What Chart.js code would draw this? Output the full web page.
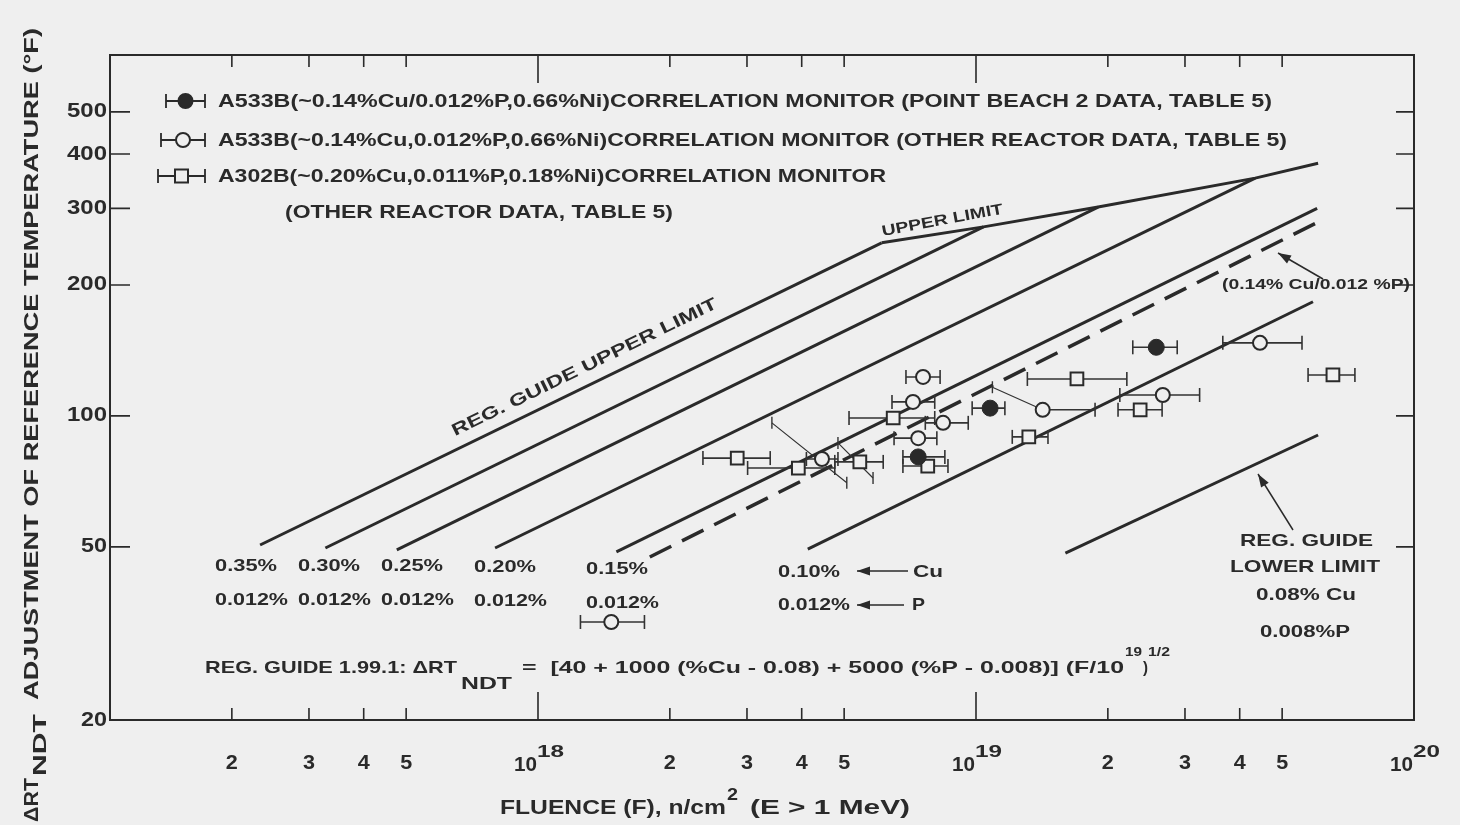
<!DOCTYPE html>
<html>
<head>
<meta charset="utf-8">
<script src="https://cdn.jsdelivr.net/npm/chart.js@4.4.1/dist/chart.umd.min.js"></script>
<style>
  html, body { margin: 0; padding: 0; background: #efefef; }
  #caja { width: 1460px; height: 825px; position: relative; }
  canvas { background: #efefef; }
</style>
</head>
<body>
<div id="caja"><canvas id="grafico"></canvas></div>
<script>
"use strict";
/* grafico de fluencia vs delta rt_ndt - escalas logaritmicas */

// ejes
var ejeF = [2e17, 3e17, 4e17, 5e17, 1e18, 2e18, 3e18, 4e18, 5e18, 1e19, 2e19, 3e19, 4e19, 5e19, 1e20];
var ejeFEtiq = ["2", "3", "4", "5", "10^18", "2", "3", "4", "5", "10^19", "2", "3", "4", "5", "10^20"];
var ejeT = [20, 50, 100, 200, 300, 400, 500];
var ejeTEtiq = ["20", "50", "100", "200", "300", "400", "500"];

// rectas de correlacion (%cu / 0.012 %p), inicio y fin
var rectaNombre = ["0.35%", "0.30%", "0.25%", "0.20%", "0.15%", "0.10%", "limite inferior"];
var rectaF0 = [2.32e17, 3.27e17, 4.76e17, 7.98e17, 1.51e18, 4.13e18, 1.60e19];
var rectaT0 = [50.5, 49.7, 49.2, 49.7, 48.7, 49.4, 48.4];
var rectaF1 = [6.09e18, 1.04e19, 1.90e19, 4.34e19, 6.01e19, 5.88e19, 6.04e19];
var rectaT1 = [250, 272, 302, 352, 300, 183, 90.4];

// limite superior (tramo quebrado)
var limiteF = [6.09e18, 1.04e19, 1.90e19, 4.34e19, 6.04e19];
var limiteT = [250, 272, 302, 352, 381];

// recta discontinua 0.14% cu / 0.012% p
var trazoF = [1.80e18, 6.0e19];
var trazoT = [47.4, 278];

// a533b point beach 2 (circulo lleno)
var pbF = [7.38e18, 1.077e19, 2.58e19];
var pbT = [80.5, 104.2, 143.8];
var pbMin = [6.81e18, 9.8e18, 2.28e19];
var pbMax = [8.49e18, 1.164e19, 2.88e19];

// a533b otros reactores (circulo abierto)
var otrF = [7.57e18, 7.18e18, 8.41e18, 7.38e18, 4.45e18, 1.42e19, 2.67e19, 4.45e19, 1.47e18];
var otrT = [122.9, 107.7, 96.4, 88.9, 79.6, 103.3, 111.7, 147.2, 33.6];
var otrMin = [6.92e18, 6.43e18, 7.66e18, 6.5e18, 4.1e18, 1.42e19, 2.13e19, 3.66e19, 1.25e18];
var otrMax = [8.28e18, 8.05e18, 9.6e18, 8.14e18, 4.84e18, 1.87e19, 3.24e19, 5.55e19, 1.75e18];

// a302b otros reactores (cuadrado)
var a302F = [2.85e18, 3.93e18, 5.43e18, 7.76e18, 6.47e18, 1.70e19, 2.37e19, 1.32e19, 6.53e19];
var a302T = [80.0, 75.9, 78.4, 76.7, 98.9, 121.6, 103.3, 89.5, 124.2];
var a302Min = [2.38e18, 3.01e18, 4.76e18, 6.81e18, 5.13e18, 1.31e19, 2.11e19, 1.21e19, 5.73e19];
var a302Max = [3.39e18, 4.76e18, 6.14e18, 8.63e18, 8.05e18, 2.21e19, 2.66e19, 1.46e19, 7.33e19];

// lineas guia finas del grafico original
var guiaF0 = [3.42e18, 4.84e18, 1.09e19];
var guiaT0 = [96.4, 86.7, 116.4];
var guiaF1 = [5.07e18, 5.82e18, 1.42e19];
var guiaT1 = [70.2, 72.0, 103.3];

var tinta = "#2a2a2a";
var fondo = "#efefef";
var letra = "'Liberation Sans', Arial, sans-serif";

function barras(lo, hi, t) {
  var d = [];
  for (var i = 0; i < t.length; i++) {
    d.push({ x: lo[i], y: t[i] }, { x: hi[i], y: t[i] }, { x: hi[i], y: null });
  }
  return d;
}

function guias() {
  var d = [];
  for (var i = 0; i < guiaF0.length; i++) {
    d.push({ x: guiaF0[i], y: guiaT0[i] }, { x: guiaF1[i], y: guiaT1[i] }, { x: guiaF1[i], y: null });
  }
  return d;
}

function puntos(f, t) {
  return f.map(function (v, i) { return { x: v, y: t[i] }; });
}

// texto con ancho ajustado (escala horizontal)
function escribir(ctx, s, x, y, ancho, tam, giro, alin) {
  ctx.save();
  ctx.font = "bold " + tam + "px " + letra;
  var m = ctx.measureText(s).width;
  var k = ancho ? ancho / m : 1;
  ctx.translate(x, y);
  if (giro) { ctx.rotate(giro); }
  ctx.scale(k, 1);
  ctx.textBaseline = "middle";
  ctx.textAlign = alin || "left";
  ctx.fillStyle = tinta;
  ctx.fillText(s, 0, 0);
  ctx.restore();
}

function flecha(ctx, x0, y0, x1, y1) {
  var a = Math.atan2(y1 - y0, x1 - x0);
  ctx.save();
  ctx.strokeStyle = tinta;
  ctx.fillStyle = tinta;
  ctx.lineWidth = 1.5;
  ctx.beginPath();
  ctx.moveTo(x0, y0);
  ctx.lineTo(x1, y1);
  ctx.stroke();
  ctx.beginPath();
  ctx.moveTo(x1, y1);
  ctx.lineTo(x1 - 13 * Math.cos(a) + 4.5 * Math.sin(a), y1 - 13 * Math.sin(a) - 4.5 * Math.cos(a));
  ctx.lineTo(x1 - 13 * Math.cos(a) - 4.5 * Math.sin(a), y1 - 13 * Math.sin(a) + 4.5 * Math.cos(a));
  ctx.closePath();
  ctx.fill();
  ctx.restore();
}

function muestra(ctx, x0, x1, y, tipo) {
  ctx.save();
  ctx.strokeStyle = tinta;
  ctx.lineWidth = 1.8;
  ctx.beginPath();
  ctx.moveTo(x0, y); ctx.lineTo(x1, y);
  ctx.moveTo(x0, y - 7); ctx.lineTo(x0, y + 7);
  ctx.moveTo(x1, y - 7); ctx.lineTo(x1, y + 7);
  ctx.stroke();
  var cx = (x0 + x1) / 2;
  ctx.lineWidth = 2;
  ctx.fillStyle = tipo === "lleno" ? tinta : fondo;
  ctx.beginPath();
  if (tipo === "cuadro") { ctx.rect(cx - 6.5, y - 6.5, 13, 13); }
  else { ctx.arc(cx, y, 7, 0, Math.PI * 2); }
  ctx.fill();
  ctx.stroke();
  ctx.restore();
}

var marco = {
  id: "marco",
  beforeDatasetsDraw: function (chart) {
    var ctx = chart.ctx, a = chart.chartArea, x = chart.scales.x, y = chart.scales.y;
    ctx.save();
    ctx.strokeStyle = tinta;
    ctx.lineWidth = 2;
    ctx.strokeRect(a.left, a.top, a.right - a.left, a.bottom - a.top);
    ctx.lineWidth = 1.6;
    ctx.beginPath();
    ejeF.forEach(function (v, i) {
      var px = x.getPixelForValue(v);
      var mayor = ejeFEtiq[i].indexOf("^") >= 0;
      if (px >= a.right - 1) { return; }
      ctx.moveTo(px, a.bottom); ctx.lineTo(px, a.bottom - (mayor ? 28 : 12));
      ctx.moveTo(px, a.top); ctx.lineTo(px, a.top + (mayor ? 28 : 12));
    });
    ejeT.forEach(function (v) {
      var py = y.getPixelForValue(v);
      if (py >= a.bottom - 1) { return; }
      ctx.moveTo(a.left, py); ctx.lineTo(a.left + 20, py);
      ctx.moveTo(a.right, py); ctx.lineTo(a.right - 18, py);
    });
    ctx.stroke();
    ctx.restore();
  },
  afterDraw: function (chart) {
    var ctx = chart.ctx, x = chart.scales.x, y = chart.scales.y;

    // etiquetas del eje de fluencia
    ejeF.forEach(function (v, i) {
      var px = x.getPixelForValue(v);
      var e = ejeFEtiq[i];
      if (e.indexOf("^") >= 0) {
        var p = e.split("^");
        escribir(ctx, p[0], px - 1, 765, 23, 20, 0, "right");
        escribir(ctx, p[1], px - 1, 752, 27, 17, 0, "left");
      } else {
        escribir(ctx, e, px, 763, 12, 20, 0, "center");
      }
    });

    // etiquetas del eje de temperatura
    ejeT.forEach(function (v, i) {
      var py = y.getPixelForValue(v);
      var s = ejeTEtiq[i];
      escribir(ctx, s, 107, py, s.length === 3 ? 40 : 26, 20, 0, "right");
    });

    // titulos de ejes
    escribir(ctx, "FLUENCE (F), n/cm", 500, 808, 226, 21);
    escribir(ctx, "2", 727, 796, 11, 16);
    escribir(ctx, "(E > 1 MeV)", 750, 808, 160, 21);

    escribir(ctx, "\u0394RT", 32, 822, 44, 20, -Math.PI / 2);
    escribir(ctx, "NDT", 41, 776, 62, 18, -Math.PI / 2);
    escribir(ctx, "ADJUSTMENT OF REFERENCE TEMPERATURE (\u00b0F)", 32, 700, 672, 20, -Math.PI / 2);

    // leyenda
    muestra(ctx, 166, 205, 101, "lleno");
    muestra(ctx, 161, 205, 140, "abierto");
    muestra(ctx, 158, 205, 176, "cuadro");
    escribir(ctx, "A533B(~0.14%Cu/0.012%P,0.66%Ni)CORRELATION MONITOR (POINT BEACH 2 DATA, TABLE 5)", 218, 102, 1054, 18);
    escribir(ctx, "A533B(~0.14%Cu,0.012%P,0.66%Ni)CORRELATION MONITOR (OTHER REACTOR DATA, TABLE 5)", 218, 141, 1069, 18);
    escribir(ctx, "A302B(~0.20%Cu,0.011%P,0.18%Ni)CORRELATION MONITOR", 218, 177, 668, 18);
    escribir(ctx, "(OTHER REACTOR DATA, TABLE 5)", 285, 213, 388, 18);

    // rotulos de las rectas
    escribir(ctx, "REG. GUIDE UPPER LIMIT", 453, 432, 293, 17, -0.455);
    escribir(ctx, "UPPER LIMIT", 882, 232, 123, 15, -0.185);
    escribir(ctx, "(0.14% Cu/0.012 %P)", 1222, 285, 188, 14);
    flecha(ctx, 1323, 279, 1278, 253);

    var cols = [[215, 566, 600], [298, 566, 600], [381, 566, 600], [474, 567, 601], [586, 569, 603]];
    cols.forEach(function (c, i) {
      escribir(ctx, rectaNombre[i], c[0], c[1], 62, 17);
      escribir(ctx, "0.012%", c[0], c[2], 73, 17);
    });
    escribir(ctx, rectaNombre[5], 778, 572, 62, 17);
    escribir(ctx, "0.012%", 778, 605, 72, 17);
    flecha(ctx, 908, 571, 857, 571);
    escribir(ctx, "Cu", 913, 572, 30, 17);
    flecha(ctx, 904, 605, 857, 605);
    escribir(ctx, "P", 912, 605, 13, 17);

    escribir(ctx, "REG. GUIDE", 1240, 541, 133, 17);
    escribir(ctx, "LOWER LIMIT", 1230, 567, 150, 17);
    escribir(ctx, "0.08% Cu", 1256, 596, 100, 16);
    escribir(ctx, "0.008%P", 1260, 633, 90, 16);
    flecha(ctx, 1293, 530, 1258, 474);

    // formula
    escribir(ctx, "REG. GUIDE 1.99.1: \u0394RT", 205, 668, 252, 17);
    escribir(ctx, "NDT", 461, 684, 51, 17);
    escribir(ctx, "=  [40 + 1000 (%Cu - 0.08) + 5000 (%P - 0.008)] (F/10", 522, 668, 602, 17);
    escribir(ctx, "19", 1125, 652, 17, 13);
    escribir(ctx, ")", 1143, 668, 5, 17);
    escribir(ctx, "1/2", 1148, 652, 22, 13);
  }
};

var conjuntos = [];

// rectas de correlacion
for (var i = 0; i < rectaF0.length; i++) {
  conjuntos.push({
    label: rectaNombre[i],
    data: [{ x: rectaF0[i], y: rectaT0[i] }, { x: rectaF1[i], y: rectaT1[i] }],
    showLine: true, borderColor: tinta, borderWidth: 3, pointRadius: 0, order: 3
  });
}
conjuntos.push({
  label: "upper limit",
  data: puntos(limiteF, limiteT),
  showLine: true, borderColor: tinta, borderWidth: 3, pointRadius: 0, order: 3
});
conjuntos.push({
  label: "0.14% cu / 0.012% p",
  data: puntos(trazoF, trazoT),
  showLine: true, borderColor: tinta, borderWidth: 3.5, borderDash: [24, 12], pointRadius: 0, order: 3
});

// barras horizontales y guias
[[pbMin, pbMax, pbT], [otrMin, otrMax, otrT], [a302Min, a302Max, a302T]].forEach(function (b) {
  conjuntos.push({
    label: "barras",
    data: barras(b[0], b[1], b[2]),
    showLine: true, spanGaps: false, borderColor: "#333", borderWidth: 1.6,
    pointStyle: "line", rotation: 90, pointRadius: 7, pointBorderColor: "#333", pointBorderWidth: 1.6, order: 2
  });
});
conjuntos.push({
  label: "guias",
  data: guias(),
  showLine: true, spanGaps: false, borderColor: "#333", borderWidth: 1.2,
  pointStyle: "line", rotation: 90, pointRadius: 6, pointBorderColor: "#333", pointBorderWidth: 1.4, order: 2
});

// marcadores
conjuntos.push({
  label: "A533B point beach 2",
  data: puntos(pbF, pbT),
  pointStyle: "circle", pointRadius: 8, backgroundColor: tinta, borderColor: tinta, borderWidth: 1, order: 0
});
conjuntos.push({
  label: "A533B otros",
  data: puntos(otrF, otrT),
  pointStyle: "circle", pointRadius: 7, backgroundColor: fondo, borderColor: "#2a2a2a", borderWidth: 2, order: 0
});
conjuntos.push({
  label: "A302B otros",
  data: puntos(a302F, a302T),
  pointStyle: "rect", pointRadius: 9, backgroundColor: fondo, borderColor: "#2a2a2a", borderWidth: 2, order: 0
});

new Chart(document.getElementById("grafico").getContext("2d"), {
  type: "scatter",
  data: { datasets: conjuntos },
  options: {
    responsive: true,
    maintainAspectRatio: false,
    devicePixelRatio: 1,
    animation: false,
    layout: { padding: { left: 110, right: 46, top: 55, bottom: 105 } },
    plugins: { legend: { display: false }, tooltip: { enabled: false } },
    elements: { line: { tension: 0 } },
    scales: {
      x: { type: "logarithmic", min: 1.054e17, max: 1e20, display: false },
      y: { type: "logarithmic", min: 20, max: 675.5, display: false }
    }
  },
  plugins: [marco]
});
</script>
</body>
</html>
